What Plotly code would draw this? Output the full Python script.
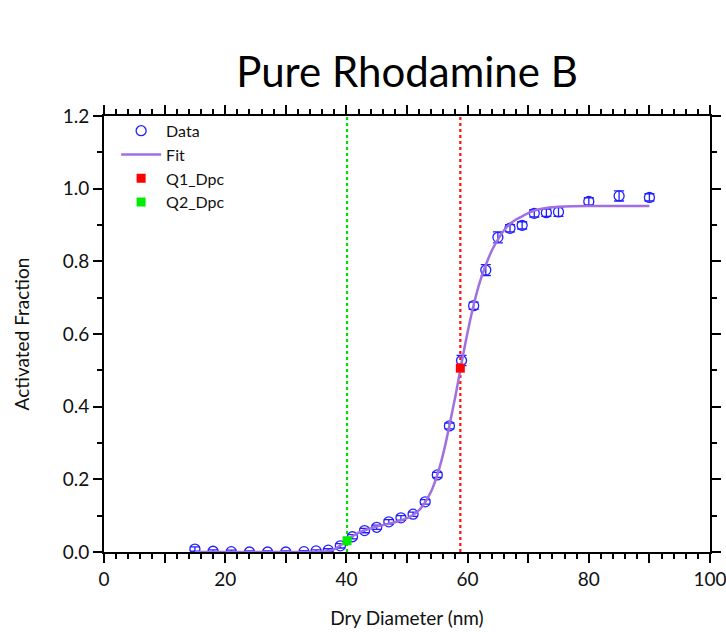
import plotly.graph_objects as go

# Measured data
diam = [15, 18, 21, 24, 27, 30, 33, 35, 37, 39, 41, 43, 45, 47, 49, 51, 53, 55, 57,
        59, 61, 63, 65, 67, 69, 71, 73, 75, 80, 85, 90]
frac = [0.008, 0.002, 0.001, 0.000, 0.000, 0.000, 0.001, 0.003, 0.005, 0.017, 0.042,
        0.059, 0.068, 0.083, 0.094, 0.104, 0.138, 0.212, 0.347, 0.527, 0.678, 0.776,
        0.866, 0.891, 0.899, 0.932, 0.934, 0.936, 0.965, 0.980, 0.976]
frac_err = [0.006, 0.004, 0.004, 0.003, 0.003, 0.003, 0.003, 0.003, 0.004, 0.006, 0.006,
            0.006, 0.006, 0.006, 0.006, 0.006, 0.006, 0.007, 0.008, 0.014, 0.010, 0.015,
            0.015, 0.010, 0.010, 0.010, 0.010, 0.012, 0.010, 0.014, 0.010]

# Fit curve
fit_x = [15, 20, 25, 30, 34, 36, 37, 38, 39, 40, 41, 42, 43, 44, 45, 46, 47, 48, 49, 50,
         51, 52, 53, 54, 55, 56, 57, 58, 59, 60, 61, 62, 63, 64, 65, 66, 67, 68, 69, 70,
         71, 72, 73, 74, 76, 80, 85, 90]
fit_y = [0.0, 0.0, 0.0, 0.0, 0.0, 0.001, 0.003, 0.008, 0.018, 0.030, 0.043, 0.053, 0.060,
         0.065, 0.070, 0.074, 0.078, 0.082, 0.087, 0.093, 0.102, 0.115, 0.137, 0.167,
         0.212, 0.272, 0.348, 0.430, 0.520, 0.605, 0.680, 0.742, 0.790, 0.830, 0.860,
         0.885, 0.903, 0.915, 0.924, 0.933, 0.940, 0.944, 0.947, 0.949, 0.951, 0.952,
         0.952, 0.952]

q1_x, q1_y = [58.8], [0.506]
q2_x, q2_y = [40.1], [0.031]

x_ticks = [0, 10, 20, 30, 40, 50, 60, 70, 80, 90, 100]
x_ticktext = ["0", "", "20", "", "40", "", "60", "", "80", "", "100"]
y_ticks = [0.0, 0.2, 0.4, 0.6, 0.8, 1.0, 1.2]
y_ticktext = ["0.0", "0.2", "0.4", "0.6", "0.8", "1.0", "1.2"]

FONT = "Lato"

fig = go.Figure()

# vertical dotted marker lines
fig.add_trace(go.Scatter(x=[q2_x[0], q2_x[0]], y=[0, 1.2], mode="lines",
                         line=dict(color="#00e000", width=2.2, dash="dot"),
                         showlegend=False, hoverinfo="skip"))
fig.add_trace(go.Scatter(x=[q1_x[0], q1_x[0]], y=[0, 1.2], mode="lines",
                         line=dict(color="#ff1010", width=2.2, dash="dot"),
                         showlegend=False, hoverinfo="skip"))

fig.add_trace(go.Scatter(x=diam, y=frac, mode="markers", name="Data",
                         marker=dict(symbol="circle-open", size=10, color="#2020ff",
                                     line=dict(width=1.3)),
                         error_y=dict(type="data", array=frac_err, visible=True,
                                      color="#2020ff", thickness=1.3, width=5)))
fig.add_trace(go.Scatter(x=fit_x, y=fit_y, mode="lines", name="Fit",
                         line=dict(color="#a070e0", width=2.5, shape="spline")))
fig.add_trace(go.Scatter(x=q1_x, y=q1_y, mode="markers", name="Q1_Dpc",
                         marker=dict(symbol="square", size=9, color="#ff0000")))
fig.add_trace(go.Scatter(x=q2_x, y=q2_y, mode="markers", name="Q2_Dpc",
                         marker=dict(symbol="square", size=9, color="#00ee00")))

axis_common = dict(showline=True, linecolor="black", linewidth=2, mirror="allticks",
                   ticks="outside", tickcolor="black", tickwidth=2, ticklen=9,
                   showgrid=False, zeroline=False, automargin=False,
                   ticklabeloverflow="allow",
                   tickfont=dict(family=FONT, size=19, color="#111"))

fig.update_xaxes(range=[0, 100], tickmode="array", tickvals=x_ticks, ticktext=x_ticktext,
                 minor=dict(dtick=2, ticklen=5, tickwidth=2, tickcolor="black",
                            ticks="outside", showgrid=False),
                 title=dict(text="Dry Diameter (nm)", font=dict(family=FONT, size=19, color="#111"),
                            standoff=23),
                 **axis_common)
fig.update_yaxes(range=[0, 1.2], tickmode="array", tickvals=y_ticks, ticktext=y_ticktext,
                 minor=dict(dtick=0.1, ticklen=5, tickwidth=2, tickcolor="black",
                            ticks="outside", showgrid=False),
                 title=dict(text="Activated Fraction", font=dict(family=FONT, size=19, color="#111"),
                            standoff=28),
                 **axis_common)

# small extensions of the frame lines past the corners
ex = 8 / 606
ey = 8 / 436
for (x0, y0, x1, y1) in [(-ex, 0, 0, 0), (-ex, 1, 0, 1), (1, 0, 1 + ex, 0), (1, 1, 1 + ex, 1),
                         (0, -ey, 0, 0), (1, -ey, 1, 0), (0, 1, 0, 1 + ey), (1, 1, 1, 1 + ey)]:
    fig.add_shape(type="line", xref="paper", yref="paper", x0=x0, y0=y0, x1=x1, y1=y1,
                  line=dict(color="black", width=2))

fig.update_layout(
    width=726, height=632,
    margin=dict(l=104, r=16, t=116, b=80, autoexpand=False),
    paper_bgcolor="white", plot_bgcolor="white",
    title=dict(text="Pure Rhodamine B", x=(104 + 303) / 726, xanchor="center",
               y=1 - 72 / 632, yanchor="middle",
               font=dict(family=FONT, size=42, color="black")),
    legend=dict(x=0.02, y=1.005, xanchor="left", yanchor="top", bgcolor="rgba(0,0,0,0)",
                font=dict(family=FONT, size=16, color="#111"), tracegroupgap=0,
                itemwidth=40),
    showlegend=True,
)

fig.write_html("out.html")
